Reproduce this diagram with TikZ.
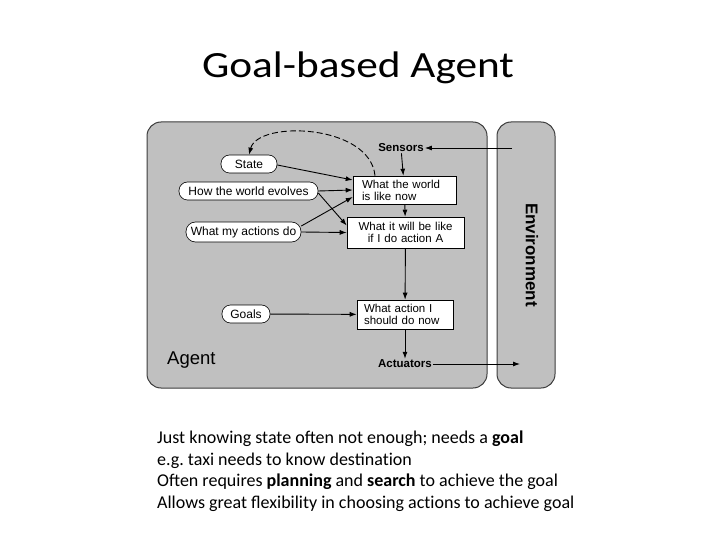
\documentclass[tikz,border=0pt]{standalone}
\usepackage{fontspec}
\setmainfont{Carlito}
\newfontfamily\hel{Liberation Sans}
\usetikzlibrary{arrows.meta}
\definecolor{panel}{RGB}{192,192,192}
\definecolor{edge}{RGB}{60,60,60}
\tikzset{
  pill/.style={draw=black, fill=white, rounded corners=8.5pt, minimum height=18pt, inner sep=0pt, font=\hel\fontsize{12}{13}\selectfont, line width=0.6pt},
  rbox/.style={draw=black, fill=white, inner sep=0pt, align=left, font=\hel\fontsize{11.5}{12}\selectfont, line width=0.6pt},
  lbl/.style={font=\hel\bfseries\fontsize{11.5}{12}\selectfont, inner sep=1pt},
  arr/.style={-{Latex[length=7pt,width=5pt]}, line width=0.9pt},
  bul/.style={anchor=base west, inner sep=0pt, font=\fontsize{18}{20}\selectfont}
}
\begin{document}
\begin{tikzpicture}[x=1pt,y=-1pt]
\useasboundingbox (0,0) rectangle (720,540);
% title
\node[anchor=base, inner sep=0pt, font=\fontsize{37}{40}\selectfont] (title) at (358,78) {\scalebox{1.17}[1]{Goal-based Agent}};
% panels
\draw[fill=panel, draw=edge, line width=1pt, rounded corners=14pt] (147,122) rectangle (487,388);
\draw[fill=panel, draw=edge, line width=1pt, rounded corners=14pt] (497,122) rectangle (555,388);
\node[rotate=-90, font=\hel\bfseries\fontsize{17}{18}\selectfont] (env) at (532,255) {Environment};
\node[anchor=base west, inner sep=0pt, font=\hel\fontsize{18.5}{19}\selectfont] (agent) at (167,364) {Agent};
% nodes
\node[lbl] (sens) at (401,148) {Sensors};
\node[lbl] (act) at (405,364) {Actuators};
\node[pill, minimum width=56pt] (state) at (249,164) {State};
\node[pill, minimum width=139pt] (evol) at (248.5,191) {How the world evolves};
\node[pill, minimum width=115pt, minimum height=20pt, rounded corners=9.5pt] (acts) at (243.5,232) {What my actions do};
\node[pill, minimum width=48pt] (goals) at (246,314) {Goals};
\node[rbox, minimum width=103pt, minimum height=28pt, text width=85pt] (now) at (404.5,190) {What the world\\is like now};
\node[rbox, minimum width=117pt, minimum height=31pt, align=center, text width=110pt] (will) at (405.5,232.5) {What it will be like\\if I do action A};
\node[rbox, minimum width=96pt, minimum height=29pt, text width=82pt] (what) at (405,314.5) {What action I\\should do now};
\coordinate (envin) at (512,148);
\coordinate (envout) at (520,364);
% connectors
\draw[arr] (envin) -- (sens);
\draw[arr] (act) -- (envout);
\draw[arr] (sens) -- (now);
\draw[arr] (now) -- (will);
\draw[arr] (will) -- (what);
\draw[arr] (what) -- (act);
\draw[arr] (goals) -- (what);
\draw[arr] ([yshift=-1pt]state.east) -- ([yshift=10pt]now.west);
\draw[arr] (evol.east) -- (now.west);
\draw[arr] ([yshift=-2pt]evol.east) -- ([yshift=7pt]will.west);
\draw[arr] ([yshift=6pt]acts.east) -- ([yshift=-7pt]now.west);
\draw[arr] (acts.east) -- (will.west);
\draw[arr, dashed, dash pattern=on 6pt off 3pt] ([xshift=-29.5pt]now.north) .. controls (370,124) and (258,120) .. (state.north);
% bullets
\node[bul] (l1) at (157,443) {Just knowing state often not enough; needs a \textbf{goal}};
\node[bul] (l2) at (157,465) {e.g.\ taxi needs to know destinat\kern0pt ion};
\node[bul] (l3) at (157,486.5) {Often requires \textbf{planning} and \textbf{search} to achieve the goal};
\node[bul] (l4) at (157,508) {Allows great flexibility in choosing act\kern0pt ions to achieve goal};
\end{tikzpicture}
\end{document}
